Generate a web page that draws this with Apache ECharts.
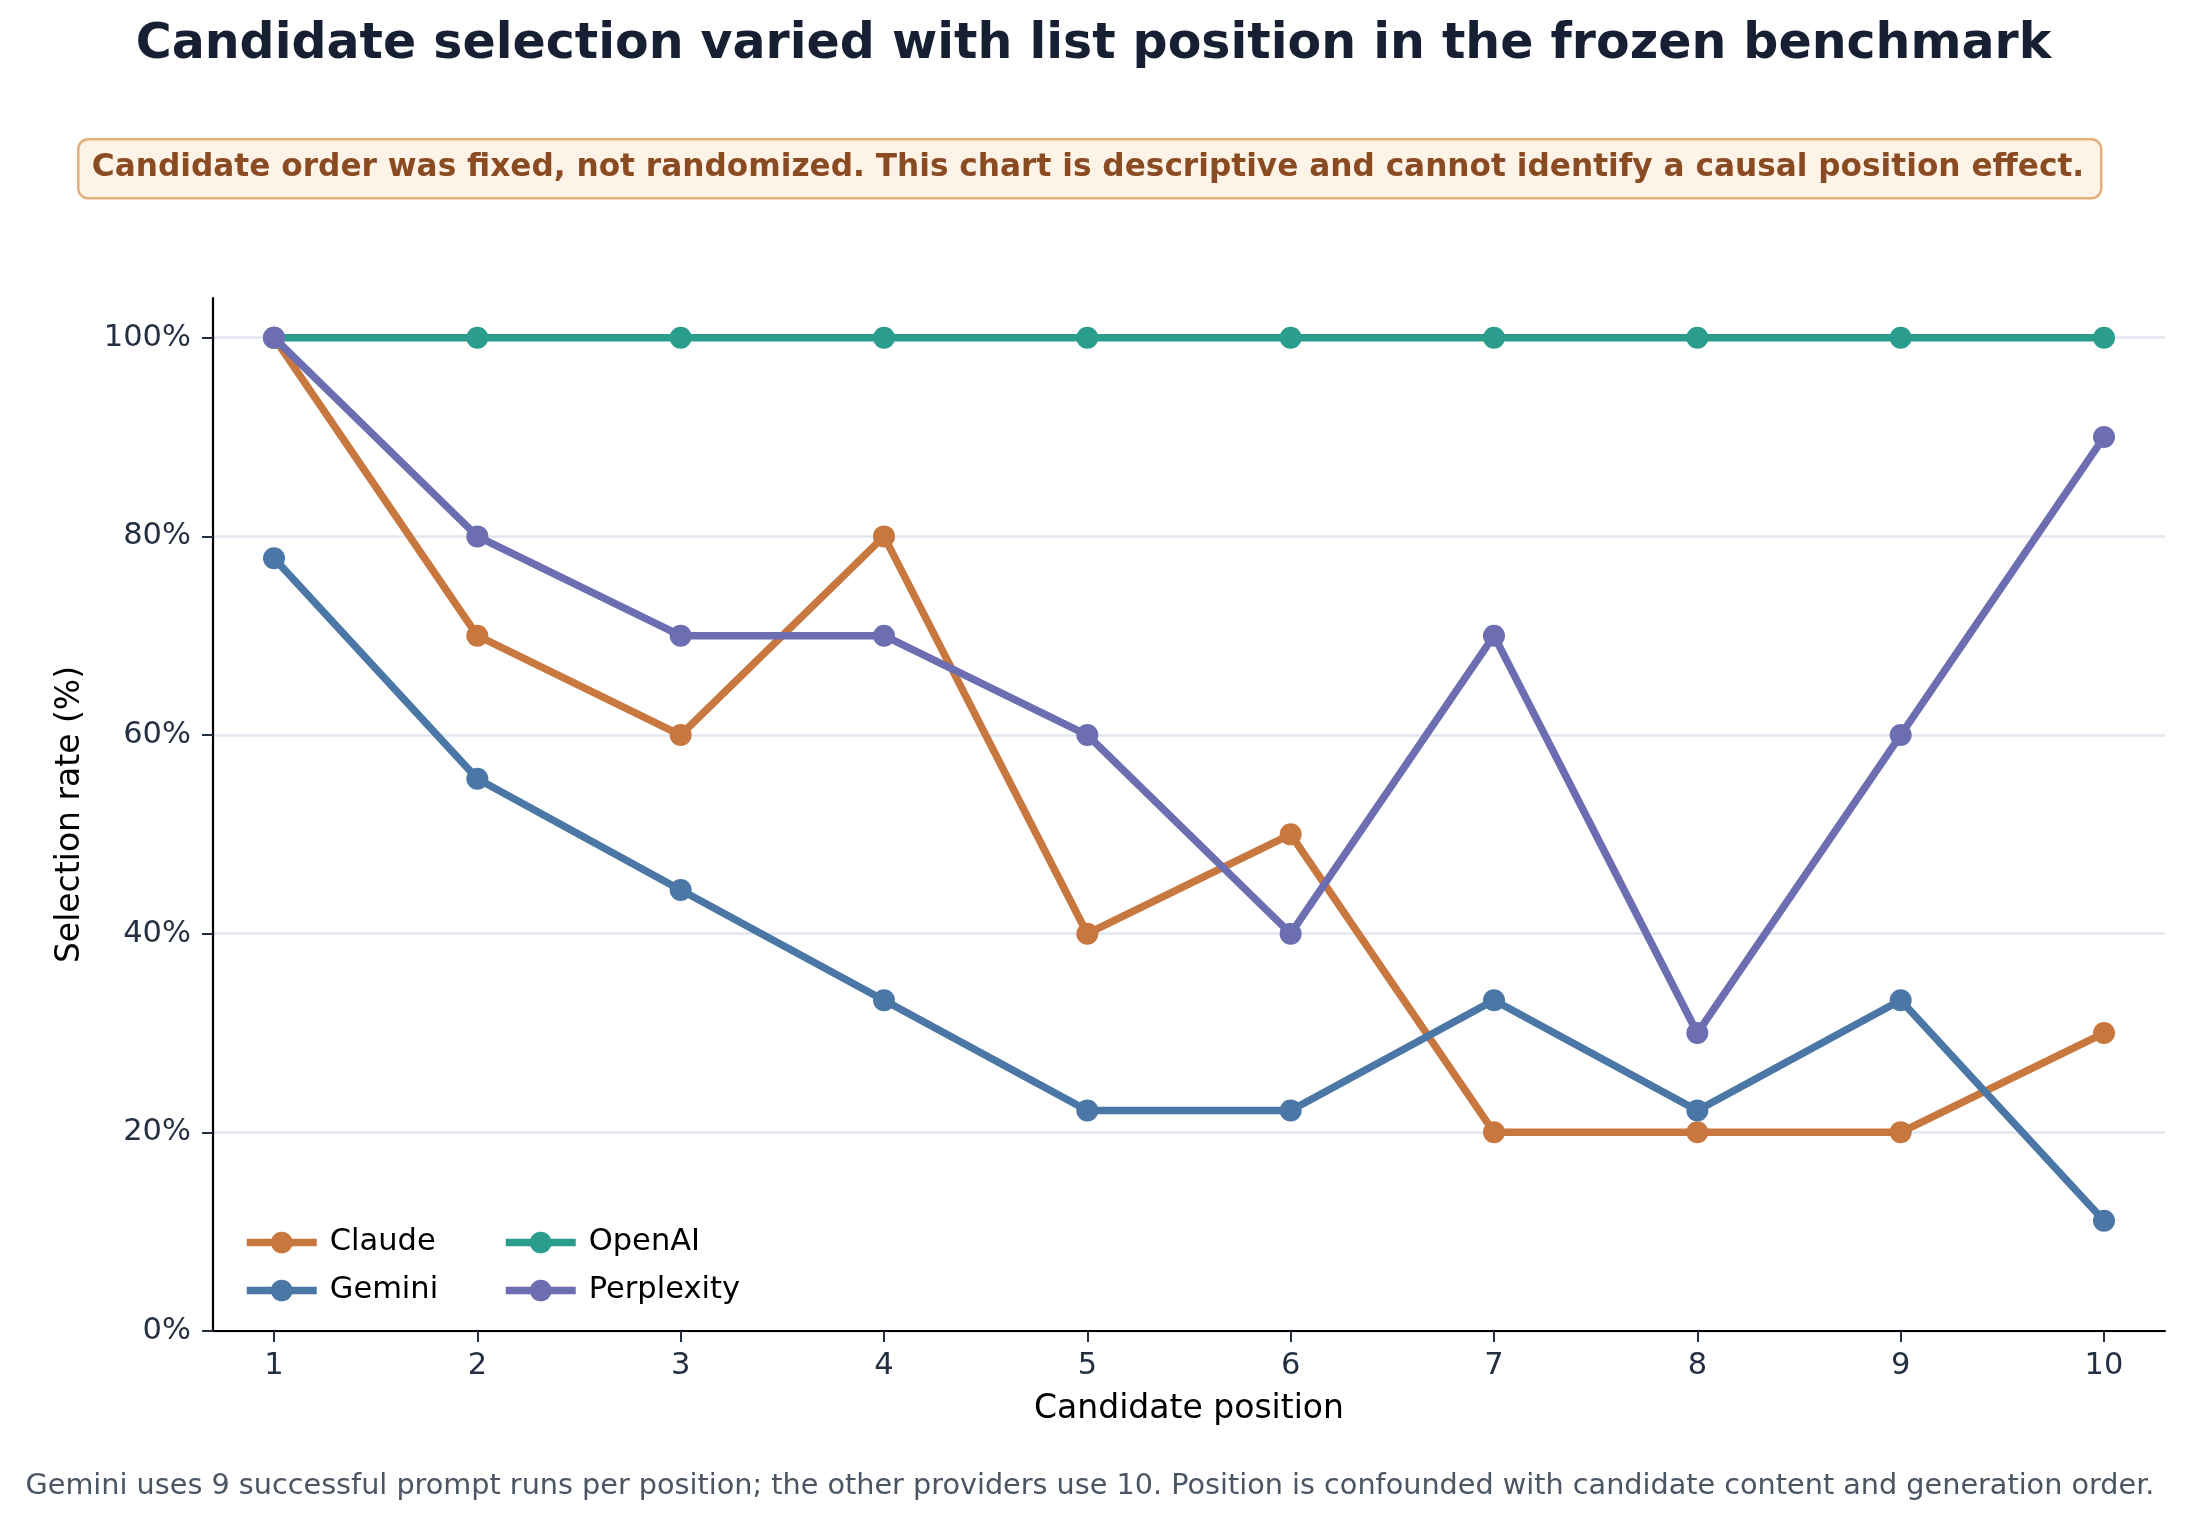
<!DOCTYPE html>
<html>
<head>
<meta charset="utf-8">
<script src="https://cdn.jsdelivr.net/npm/echarts@6/dist/echarts.min.js"></script>
<style>
  html, body { margin: 0; padding: 0; background: #fff; }
  #chart { width: 2187px; height: 1522px; }
</style>
</head>
<body>
<div id="chart"></div>
<script>
var positions = [1, 2, 3, 4, 5, 6, 7, 8, 9, 10];
var claude = [100, 70, 60, 80, 40, 50, 20, 20, 20, 30];
var gemini = [77.8, 55.6, 44.4, 33.3, 22.2, 22.2, 33.3, 22.2, 33.3, 11.1];
var openai = [100, 100, 100, 100, 100, 100, 100, 100, 100, 100];
var perplexity = [100, 80, 70, 70, 60, 40, 70, 30, 60, 90];
var yTicks = [0, 20, 40, 60, 80, 100];

var FONT = 'DejaVu Sans';

function c() {
    return {
        claude: '#C8773F',
        gemini: '#4A77A6',
        openai: '#2A9D8C',
        perplexity: '#6D6DB1',
        axis: '#000000',
        tick: '#243042',
        grid: '#E2E6EE'
    };
}

function pairs(vals) {
    return positions.map(function (p, i) { return [p, vals[i]]; });
}

function lineSeries(name, vals, color) {
    return {
        type: 'line', name: name, data: pairs(vals),
        symbol: 'circle', symbolSize: 22,
        lineStyle: { width: 7.5, color: color },
        itemStyle: { color: color },
        clip: false
    };
}

function legendBlock(items, left) {
    return {
        data: items, orient: 'vertical', left: left, top: 1222,
        itemWidth: 70, itemHeight: 27, itemGap: 17,
        lineStyle: { width: 7.5 },
        textStyle: { fontFamily: FONT, fontSize: 30.5, color: '#000', lineHeight: 30, padding: [0, 0, 0, 8] }
    };
}

var col = c();
var chart = echarts.init(document.getElementById('chart'));

chart.setOption({
    animation: false,
    backgroundColor: '#ffffff',
    textStyle: { fontFamily: FONT },
    title: {
        text: 'Candidate selection varied with list position in the frozen benchmark',
        left: 'center', top: 16,
        textStyle: { fontFamily: FONT, fontSize: 49, fontWeight: 'bold', color: '#172033' }
    },
    legend: [
        legendBlock(['Claude', 'Gemini'], 238),
        legendBlock(['OpenAI', 'Perplexity'], 497)
    ],
    grid: { left: 213, right: 22, top: 298, bottom: 191, containLabel: false },
    xAxis: {
        type: 'value', min: 0.7, max: 10.3,
        name: 'Candidate position', nameLocation: 'middle', nameGap: 62,
        nameTextStyle: { fontFamily: FONT, fontSize: 33, color: '#000' },
        axisLine: { lineStyle: { color: col.axis, width: 2.2 } },
        axisTick: { show: true, length: 11, customValues: positions, lineStyle: { color: col.tick, width: 2 } },
        axisLabel: { customValues: positions, margin: 20, fontFamily: FONT, fontSize: 30.5, color: col.tick },
        splitLine: { show: false }
    },
    yAxis: {
        type: 'value', min: 0, max: 104,
        name: 'Selection rate (%)', nameLocation: 'middle', nameGap: 126, nameRotate: 90,
        nameTextStyle: { fontFamily: FONT, fontSize: 33, color: '#000' },
        axisLine: { show: true, lineStyle: { color: col.axis, width: 2.2 } },
        axisTick: { show: true, length: 11, customValues: yTicks, lineStyle: { color: col.tick, width: 2 } },
        axisLabel: { customValues: yTicks, margin: 22, fontFamily: FONT, fontSize: 30.5, color: col.tick, formatter: '{value}%' },
        splitLine: { show: true, lineStyle: { color: col.grid, width: 2.5 } }
    },
    series: [
        lineSeries('Claude', claude, col.claude),
        lineSeries('Gemini', gemini, col.gemini),
        lineSeries('OpenAI', openai, col.openai),
        lineSeries('Perplexity', perplexity, col.perplexity)
    ],
    graphic: [
        {
            type: 'rect', left: 77, top: 138, z: 10,
            shape: { width: 2023, height: 59, r: 10 },
            style: { fill: '#FEF3E7', stroke: '#E3AF7B', lineWidth: 2.5 }
        },
        {
            type: 'text', x: 1088, y: 167.5, z: 11,
            style: {
                text: 'Candidate order was fixed, not randomized. This chart is descriptive and cannot identify a causal position effect.',
                fontFamily: FONT, fontSize: 31.2, fontWeight: 'bold', fill: '#8A4A22',
                textAlign: 'center', textVerticalAlign: 'middle'
            }
        },
        {
            type: 'text', x: 1090, y: 1487, z: 11,
            style: {
                text: 'Gemini uses 9 successful prompt runs per position; the other providers use 10. Position is confounded with candidate content and generation order.',
                fontFamily: FONT, fontSize: 28.7, fill: '#4B5563',
                textAlign: 'center', textVerticalAlign: 'middle'
            }
        }
    ]
});
</script>
</body>
</html>
